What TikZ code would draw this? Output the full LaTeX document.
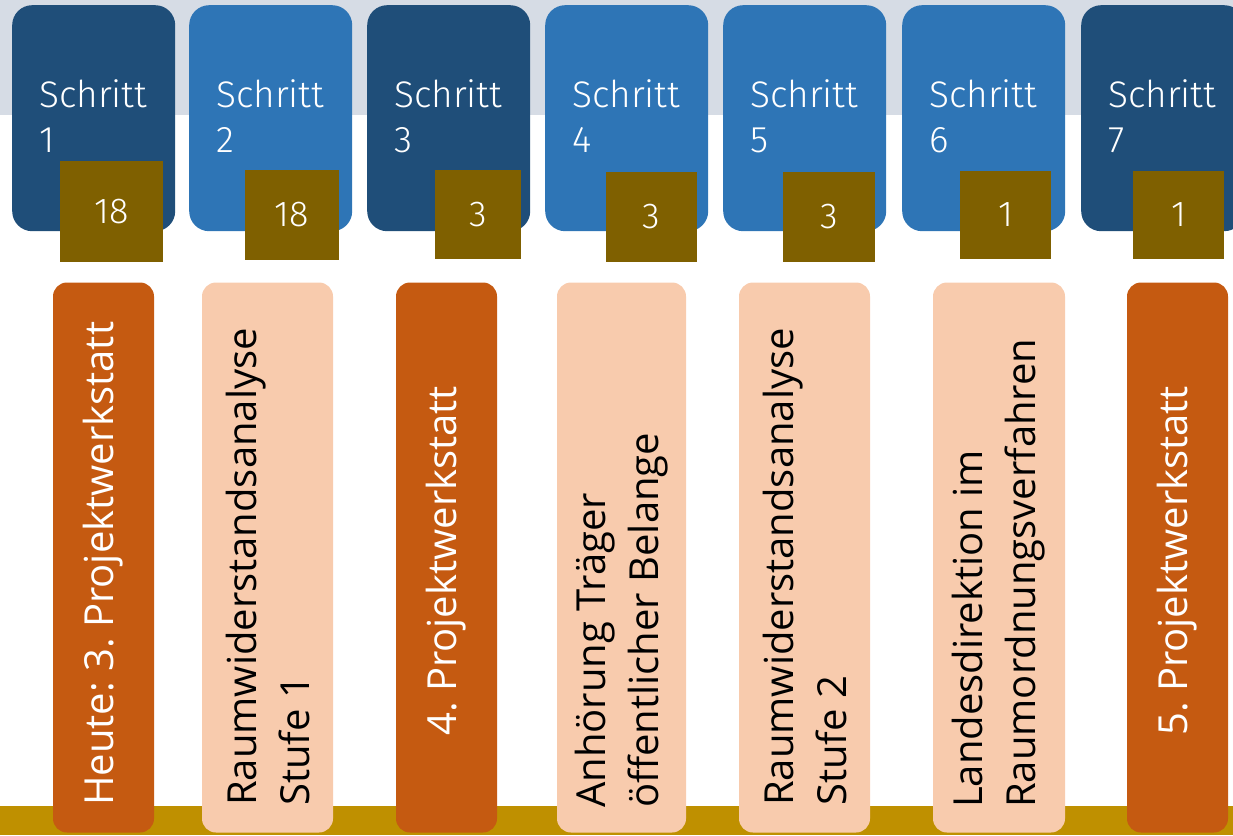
\documentclass[tikz,border=0pt]{standalone}
\usepackage{fontspec}
\setmainfont{Open Sans}
\newfontfamily\stepfont{Fira Sans Light}
\newfontfamily\phasefont{Open Sans}
\frenchspacing
\definecolor{bandtop}{HTML}{D6DCE5}
\definecolor{bandbottom}{HTML}{BF9000}
\definecolor{stepdark}{HTML}{1F4E79}
\definecolor{steplight}{HTML}{2E75B6}
\definecolor{countgold}{HTML}{7F6000}
\definecolor{phaseorange}{HTML}{C55A11}
\definecolor{phasepeach}{HTML}{F8CBAD}
\tikzset{
  stepbox/.style={draw=none, rounded corners=20pt, minimum width=163pt, minimum height=226pt, inner sep=0pt, anchor=north west},
  steptext/.style={text=white, font=\stepfont\fontsize{37}{45}\selectfont, align=left, inner sep=0pt, anchor=north west},
  countbox/.style={fill=countgold, text=white, font=\stepfont\fontsize{36}{42}\selectfont, inner sep=0pt},
  phasebox/.style={draw=none, rounded corners=14pt, minimum height=550pt, inner sep=0pt},
  phasetext/.style={font=\phasefont\fontsize{40}{53}\selectfont, align=left, inner sep=0pt, rotate=90, anchor=west},
}
\begin{document}
\begin{tikzpicture}[x=1pt,y=-1pt]
\useasboundingbox (0,0) rectangle (1233,835);
\clip (0,0) rectangle (1233,835);
% background bands
\fill[bandtop] (0,0) rectangle (1233,115);
\fill[bandbottom] (0,806) rectangle (1233,835);
% step boxes with their counters
\foreach \i/\x/\col/\n/\ga/\gb/\gc/\gd in {
  1/12/stepdark/18/60/161/163/262,
  2/189/steplight/18/245/170/339/260,
  3/367/stepdark/3/435/170/521/259,
  4/545/steplight/3/606/172/697/262,
  5/723/steplight/3/783/172/875/262,
  6/902/steplight/1/960/171/1051/259,
  7/1081/stepdark/1/1133/171/1224/259}{
  \node[stepbox, fill=\col] (step\i) at (\x,5) {};
  \node[steptext] (steplabel\i) at (\x+27,79) {Schritt\\\i};
  \node[countbox, minimum width=\gc-\ga, minimum height=\gd-\gb] (count\i) at ({(\ga+\gc)/2},{(\gb+\gd)/2}) {\n};
}
% phase columns; labels read upwards from a given start height
\foreach \i/\xa/\xb/\col/\txt/\tcol/\start in {
  1/53/154/phaseorange/{Heute: 3. Projektwerkstatt}/white/806,
  2/202/333/phasepeach/{Raumwiderstandsanalyse\\Stufe 1}/black/806,
  3/396/497/phaseorange/{4. Projektwerkstatt}/white/736,
  4/557/686/phasepeach/{Anhörung Träger\\öffentlicher Belange}/black/808,
  5/739/870/phasepeach/{Raumwiderstandsanalyse\\Stufe 2}/black/806,
  6/933/1065/phasepeach/{Landesdirektion im\\Raumordnungsverfahren}/black/808,
  7/1127/1228/phaseorange/{5. Projektwerkstatt}/white/736}{
  \node[phasebox, fill=\col, minimum width=\xb-\xa] (phase\i) at ({(\xa+\xb)/2},557.5) {};
  \node[phasetext, text=\tcol] (phaselabel\i) at ({(\xa+\xb)/2},\start) {\txt};
}
\end{tikzpicture}
\end{document}
